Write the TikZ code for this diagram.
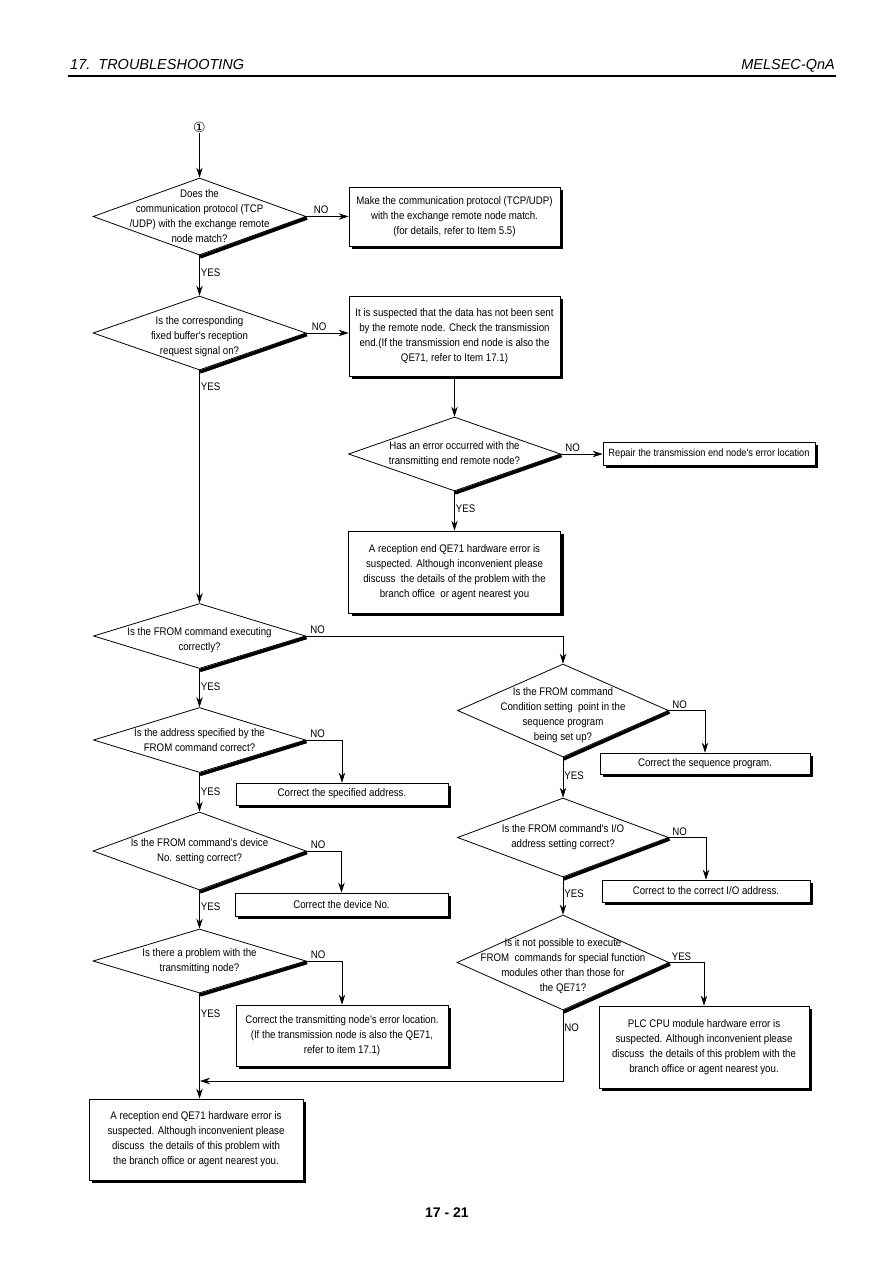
\documentclass[tikz,border=0pt]{standalone}
\usepackage{fontspec}
\setmainfont{Liberation Sans}
\newfontfamily\narrowfont{Liberation Sans}[FakeStretch=0.88]
\newfontfamily\symbolfont{DejaVu Sans}
\usetikzlibrary{shapes.geometric,arrows.meta,positioning,calc,shadows}

\tikzset{
  decision/.style={draw, diamond, inner sep=0pt, line width=0.8pt},
  qtext/.style={align=center, font=\narrowfont\fontsize{11}{15}\selectfont},
  action/.style={draw, fill=white, line width=0.8pt, inner sep=0pt, align=center,
    font=\narrowfont\fontsize{11}{15}\selectfont,
    general shadow={fill=black, shadow xshift=3pt, shadow yshift=-3pt}},
  flow/.style={-{Stealth[length=10pt,width=6.5pt]}, line width=0.8pt},
  yn/.style={font=\narrowfont\fontsize{11}{13}\selectfont, inner sep=1pt},
  edge/.style={line width=3.4pt}
}

\begin{document}
\begin{tikzpicture}[x=1pt, y=-1pt]
        \useasboundingbox (0,0) rectangle (893,1263);

        % Page header
        \node[anchor=base west, inner sep=0pt, font=\itshape\fontsize{14.5}{16}\selectfont] (chapter) at (70,70) {17.\ \ TROUBLESHOOTING};
        \node[anchor=base east, inner sep=0pt, font=\itshape\fontsize{14.5}{16}\selectfont] (series) at (835,70) {MELSEC-QnA};
        \draw[line width=1.4pt] (68,76) -- (836,76);

        % Entry point
        \node[font=\symbolfont\fontsize{14}{14}\selectfont, inner sep=1pt] (entry) at (199.5,127) {①};

        % Decisions
        \node[decision, minimum width=213pt, minimum height=77pt,
              label={[qtext]center:Does the\\communication protocol (TCP\\/UDP) with the exchange remote\\node match?}] (d1) at (199.5,216.5) {};
        \node[decision, minimum width=213pt, minimum height=74pt,
              label={[qtext, yshift=-4pt]center:Is the corresponding\\fixed buffer's reception\\request signal on?}] (d2) at (199.5,333) {};
        \node[decision, minimum width=212pt, minimum height=74pt,
              label={[qtext]center:Has an error occurred with the\\transmitting end remote node?}] (d3) at (454.5,454) {};
        \node[decision, minimum width=212pt, minimum height=65pt,
              label={[qtext, yshift=-4pt]center:Is the FROM command executing\\correctly?}] (d4) at (199.5,636) {};
        \node[decision, minimum width=212pt, minimum height=65pt,
              label={[qtext]center:Is the address specified by the\\FROM command correct?}] (d6) at (199.5,740) {};
        \node[decision, minimum width=213pt, minimum height=78pt,
              label={[qtext]center:Is the FROM command's device\\No. setting correct?}] (d7) at (199.5,851) {};
        \node[decision, minimum width=213pt, minimum height=64pt,
              label={[qtext]center:Is there a problem with the\\transmitting node?}] (d8) at (199.5,961) {};
        \node[decision, minimum width=211pt, minimum height=93pt,
              label={[qtext, yshift=-5pt]center:Is the FROM command\\Condition setting\ \ point in the\\sequence program\\being set up?}] (d5) at (563,710.5) {};
        \node[decision, minimum width=211pt, minimum height=79pt,
              label={[qtext]center:Is the FROM command's I/O\\address setting correct?}] (d9) at (563,837.5) {};
        \node[decision, minimum width=212pt, minimum height=95pt,
              label={[qtext, yshift=-4pt]center:Is it not possible to execute\\FROM\ \ commands for special function\\modules other than those for\\the QE71?}] (d10) at (563,962.5) {};

        % Shadowed lower right edges
        \foreach \d in {d1,d2,d3,d4,d5,d6,d7,d8,d9,d10}
            \draw[edge] ([shift={(0.6pt,-1.6pt)}]\d.east) -- ([shift={(0.6pt,-1.6pt)}]\d.south);

        % Actions
        \node[action, minimum width=211pt, minimum height=59pt] (b1) at (454.5,216.5)
            {Make the communication protocol (TCP/UDP)\\with the exchange remote node match.\\(for details, refer to Item 5.5)};
        \node[action, minimum width=211pt, minimum height=80pt] (b2) at (454.5,336)
            {It is suspected that the data has not been sent\\by the remote node. Check the transmission\\end.(If the transmission end node is also the\\QE71, refer to Item 17.1)};
        \node[action, minimum width=212pt, minimum height=23pt, font=\narrowfont\fontsize{10.5}{12}\selectfont] (b3) at (709,453.5)
            {Repair the transmission end node's error location};
        \node[action, minimum width=212pt, minimum height=82pt] (b4) at (454.5,572)
            {A reception end QE71 hardware error is\\suspected. Although inconvenient please\\discuss\ \ the details of the problem with the\\branch office\ \ or agent nearest you};
        \node[action, minimum width=212pt, minimum height=22pt] (b5) at (342,794) {Correct the specified address.};
        \node[action, minimum width=213pt, minimum height=23pt] (b6) at (341.5,904.5) {Correct the device No.};
        \node[action, minimum width=212pt, minimum height=61pt] (b7) at (342,1035.5)
            {Correct the transmitting node's error location.\\(If the transmission node is also the QE71,\\refer to item 17.1)};
        \node[action, minimum width=214pt, minimum height=81pt] (b8) at (196,1139.5)
            {A reception end QE71 hardware error is\\suspected. Although inconvenient please\\discuss\ \ the details of this problem with\\the branch office or agent nearest you.};
        \node[action, minimum width=210pt, minimum height=21pt] (b9) at (705,763.5) {Correct the sequence program.};
        \node[action, minimum width=208pt, minimum height=22pt] (b10) at (706,891) {Correct to the correct I/O address.};
        \node[action, minimum width=210pt, minimum height=82pt] (b11) at (704,1047)
            {PLC CPU module hardware error is\\suspected. Although inconvenient please\\discuss\ \ the details of this problem with the\\branch office or agent nearest you.};

        % Left column
        \draw[flow] (entry) -- (d1.north);
        \draw[flow] (d1.east) -- (d1.east -| b1.west) node[yn, at start, anchor=south west, xshift=6pt, yshift=1pt] {NO};
        \draw[flow] (d1.south) -- (d2.north) node[yn, at start, anchor=west, yshift=-17pt] {YES};
        \draw[flow] (d2.east) -- (d2.east -| b2.west) node[yn, at start, anchor=south west, xshift=4pt, yshift=1pt] {NO};
        \draw[flow] (d2.south) -- (d4.north) node[yn, at start, anchor=west, yshift=-16pt] {YES};
        \draw[flow] (d4.south) -- (d6.north) node[yn, at start, anchor=west, yshift=-18pt] {YES};
        \draw[flow] (d6.east) -| (b5.north) node[yn, at start, anchor=south west, xshift=3pt, yshift=1pt] {NO};
        \draw[flow] (d6.south) -- (d7.north) node[yn, at start, anchor=west, yshift=-19pt] {YES};
        \draw[flow] (d7.east) -| (b6.north) node[yn, at start, anchor=south west, xshift=3pt, yshift=1pt] {NO};
        \draw[flow] (d7.south) -- (d8.north) node[yn, at start, anchor=west, yshift=-16pt] {YES};
        \draw[flow] (d8.east) -| (b7.north) node[yn, at start, anchor=south west, xshift=3pt, yshift=1pt] {NO};
        \draw[flow] (d8.south) -- (d8.south |- b8.north) node[yn, at start, anchor=west, yshift=-20pt] {YES};

        % Transmission end check
        \draw[flow] (b2.south) -- (d3.north);
        \draw[flow] (d3.east) -- (d3.east -| b3.west) node[yn, at start, anchor=south west, xshift=3pt, yshift=1pt] {NO};
        \draw[flow] (d3.south) -- (b4.north) node[yn, at start, anchor=west, yshift=-17pt] {YES};

        % Right column
        \draw[flow] (d4.east) -| (d5.north) node[yn, at start, anchor=south west, xshift=3pt, yshift=1pt] {NO};
        \draw[flow] (d5.east) -| (b9.north) node[yn, at start, anchor=south west, xshift=2pt, yshift=1pt] {NO};
        \draw[flow] (d5.south) -- (d9.north) node[yn, at start, anchor=west, yshift=-18pt] {YES};
        \draw[flow] (d9.east) -| (b10.north) node[yn, at start, anchor=south west, xshift=2pt, yshift=1pt] {NO};
        \draw[flow] (d9.south) -- (d10.north) node[yn, at start, anchor=west, yshift=-16pt] {YES};
        \draw[flow] (d10.east) -| (b11.north) node[yn, at start, anchor=south west, xshift=1pt, yshift=1pt] {YES};

        % Back to the left column
        \coordinate (merge) at (200,1081);
        \draw[flow] (d10.south) |- (merge) node[yn, at start, anchor=west, yshift=-17pt] {NO};

        % Page number
        \node[font=\bfseries\fontsize{14}{16}\selectfont] (pageno) at (447,1213) {17 - 21};
\end{tikzpicture}
\end{document}
